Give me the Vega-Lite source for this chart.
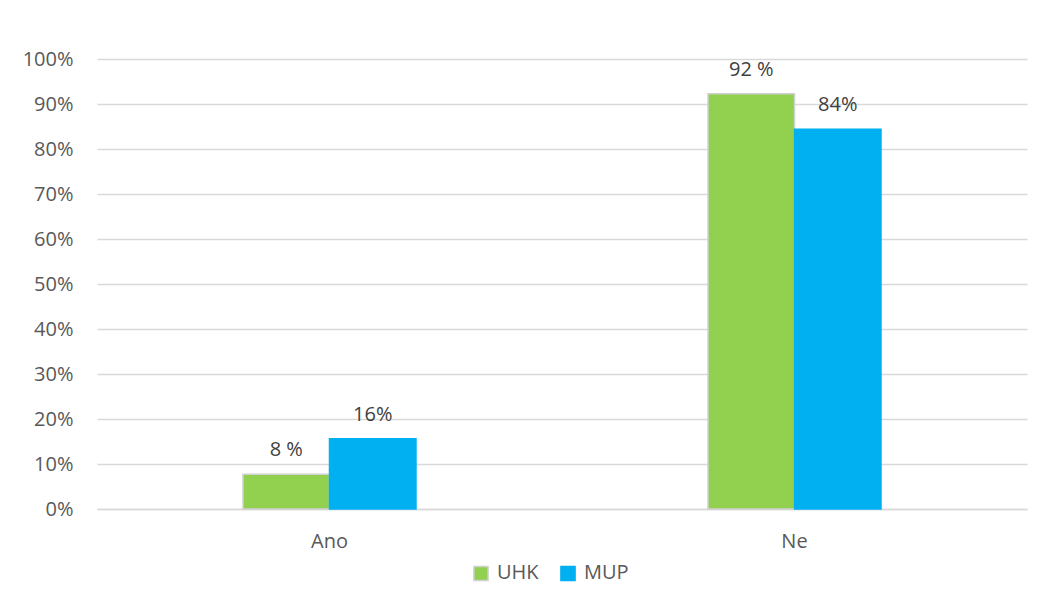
{
  "$schema": "https://vega.github.io/schema/vega-lite/v6.json",
  "autosize": {"type": "none"},
  "padding": {"left": 97, "top": 59, "right": 29, "bottom": 97},
  "width": 930,
  "height": 450,
  "background": "white",
  "config": {
    "view": {"stroke": null},
    "font": "Open Sans",
    "axis": {"labelFont": "Open Sans", "labelFontSize": 20, "labelColor": "#595959"},
    "legend": {"labelFont": "Open Sans", "labelFontSize": 20, "labelColor": "#595959"}
  },
  "data": {
    "values": [
      {"odpoved": "Ano", "skupina": "UHK", "hodnota": 7.7, "popisek": "8 %"},
      {"odpoved": "Ano", "skupina": "MUP", "hodnota": 15.6, "popisek": "16%"},
      {"odpoved": "Ne", "skupina": "UHK", "hodnota": 92.3, "popisek": "92 %"},
      {"odpoved": "Ne", "skupina": "MUP", "hodnota": 84.4, "popisek": "84%"}
    ]
  },
  "encoding": {
    "x": {
      "field": "odpoved", "type": "nominal", "sort": ["Ano", "Ne"],
      "scale": {"paddingInner": 0.628, "paddingOuter": 0.314},
      "axis": {"title": null, "labelAngle": 0, "ticks": false, "domain": true, "domainColor": "#D9D9D9", "domainWidth": 1.5, "labelPadding": 22}
    },
    "xOffset": {"field": "skupina", "type": "nominal", "sort": ["UHK", "MUP"], "scale": {"paddingInner": 0, "paddingOuter": 0}},
    "y": {
      "field": "hodnota", "type": "quantitative",
      "scale": {"domain": [0, 100], "nice": false},
      "axis": {"title": null, "values": [0,10,20,30,40,50,60,70,80,90,100], "labelExpr": "datum.value + '%'", "ticks": false, "domain": false, "gridColor": "#D9D9D9", "gridWidth": 1.5, "labelPadding": 24}
    }
  },
  "layer": [
    {
      "mark": {"type": "bar", "strokeWidth": 1.5},
      "encoding": {
        "color": {
          "field": "skupina", "type": "nominal", "sort": ["UHK", "MUP"],
          "scale": {"domain": ["UHK", "MUP"], "range": ["#92D050", "#00B0F0"]},
          "legend": {"title": null, "orient": "none", "legendX": 374, "legendY": 504, "direction": "horizontal", "symbolType": "square", "symbolSize": 200, "symbolOpacity": 1, "symbolStrokeWidth": 1.5, "labelOffset": 6, "columnPadding": 18}
        },
        "stroke": {
          "field": "skupina", "type": "nominal", "sort": ["UHK", "MUP"],
          "scale": {"domain": ["UHK", "MUP"], "range": ["#D0D0D0", "#00B0F0"]},
          "legend": {"title": null, "orient": "none", "legendX": 374, "legendY": 504, "direction": "horizontal", "symbolType": "square", "symbolSize": 200, "symbolStrokeWidth": 1.5, "labelOffset": 6, "columnPadding": 18}
        }
      }
    },
    {
      "mark": {"type": "text", "baseline": "alphabetic", "dy": -18, "fontSize": 20, "color": "#404040", "font": "Open Sans"},
      "encoding": {"text": {"field": "popisek"}}
    }
  ]
}
